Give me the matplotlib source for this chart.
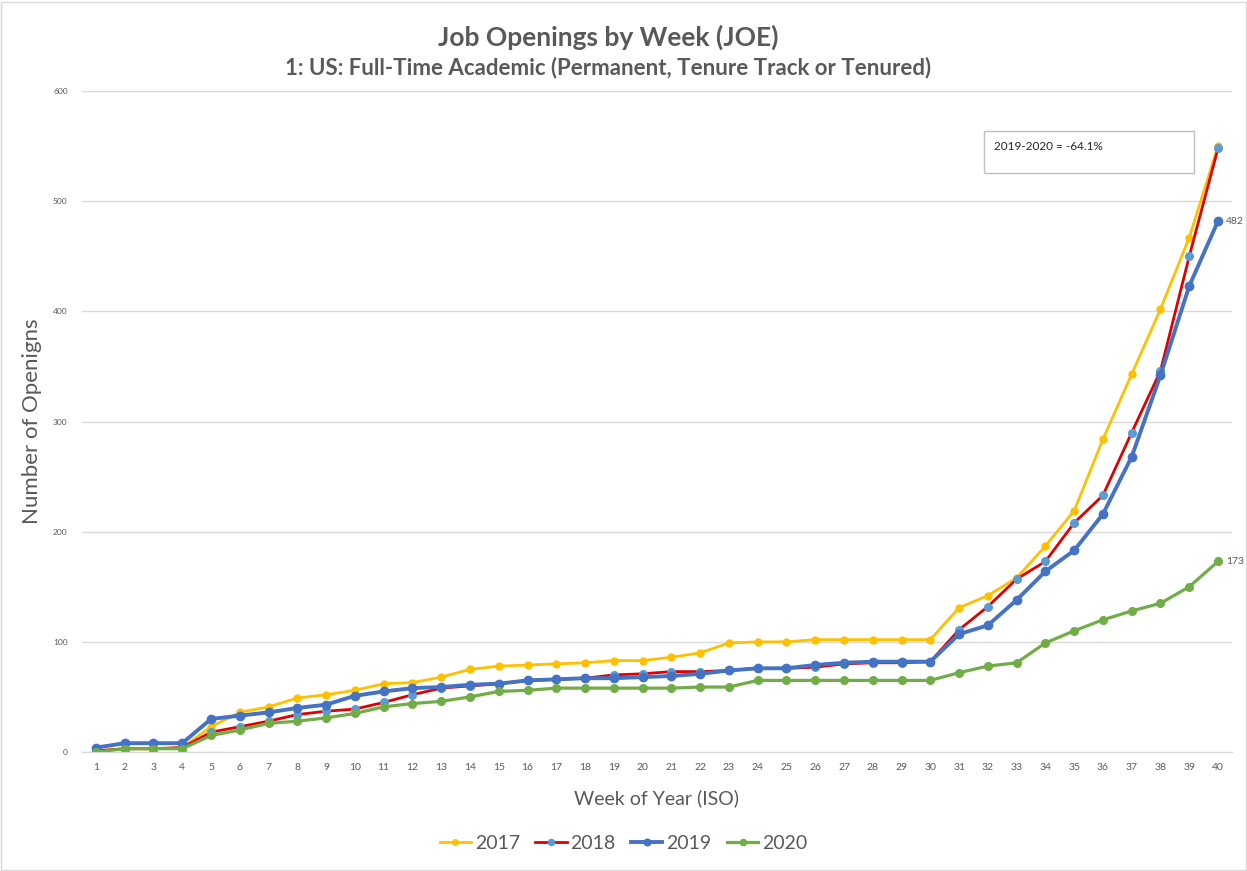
import matplotlib.pyplot as plt
from matplotlib.patches import Rectangle

weeks = list(range(1, 41))
y2017 = [1, 3, 3, 4, 23, 36, 41, 49, 52, 56, 62, 63, 68, 75, 78, 79, 80, 81, 83, 83,
         86, 90, 99, 100, 100, 102, 102, 102, 102, 102, 131, 142, 158, 187, 219, 284, 343, 402, 467, 550]
y2018 = [1, 3, 3, 4, 18, 23, 28, 34, 37, 39, 45, 52, 58, 60, 62, 65, 66, 67, 70, 71,
         73, 73, 74, 76, 76, 77, 80, 81, 81, 82, 111, 132, 157, 173, 208, 233, 290, 346, 450, 548]
y2019 = [4, 8, 8, 8, 30, 33, 36, 40, 43, 51, 55, 58, 59, 61, 62, 65, 66, 67, 67, 68,
         69, 71, 74, 76, 76, 79, 81, 82, 82, 82, 107, 115, 138, 164, 183, 216, 268, 342, 423, 482]
y2020 = [0, 3, 3, 3, 15, 20, 26, 28, 31, 35, 41, 44, 46, 50, 55, 56, 58, 58, 58, 58,
         58, 59, 59, 65, 65, 65, 65, 65, 65, 65, 72, 78, 81, 99, 110, 120, 128, 135, 150, 173]

plt.rcParams['font.family'] = ['Lato', 'DejaVu Sans']
grey = '#595959'

fig = plt.figure(figsize=(12.47, 8.71), dpi=100)
ax = fig.add_axes([0.0654, 0.1366, 0.9229, 0.7589])

# series: (values, line colour, marker colour, line width, marker size)
series = [
    ('2017', y2017, '#FFC000', '#FFC000', 2.0, 5.0),
    ('2018', y2018, '#E00000', '#5B9BD5', 2.0, 5.5),
    ('2019', y2019, '#4472C4', '#4472C4', 2.8, 6.0),
    ('2020', y2020, '#70AD47', '#70AD47', 2.3, 5.5),
]
for name, vals, lc, mc, lw, ms in series:
    ax.plot(weeks, vals, color=lc, lw=lw, marker='o', ms=ms,
            mfc=mc, mec=mc, label=name)

ax.annotate(str(y2019[-1]), (weeks[-1], y2019[-1]), xytext=(6, 0),
            textcoords='offset points', va='center', fontsize=7.5, color=grey)
ax.annotate(str(y2020[-1]), (weeks[-1], y2020[-1]), xytext=(6, 0),
            textcoords='offset points', va='center', fontsize=7.5, color=grey)

ax.set_xlim(0.5, 40.5)
ax.set_ylim(0, 600)
ax.set_xticks(weeks)
ax.set_yticks(range(0, 601, 100))
ax.tick_params(axis='both', length=0, colors=grey)
ax.tick_params(axis='x', labelsize=7.5, pad=8)
ax.tick_params(axis='y', labelsize=6, pad=10)
ax.grid(axis='y', color='#D9D9D9', lw=1)
ax.set_axisbelow(True)
for s in ['top', 'right', 'left']:
    ax.spines[s].set_visible(False)
ax.spines['bottom'].set_color('#D9D9D9')

ax.set_ylabel('Number of Openigns', fontsize=16, color=grey, labelpad=8)
ax.set_xlabel('Week of Year (ISO)', fontsize=14, color=grey, labelpad=12)

fig.text(0.4875, 0.957, 'Job Openings by Week (JOE)', ha='center', va='center',
         fontsize=19, fontweight='bold', color=grey)
fig.text(0.4875, 0.923, '1: US: Full-Time Academic (Permanent, Tenure Track or Tenured)',
         ha='center', va='center', fontsize=16, fontweight='bold', color=grey)

fig.legend(loc='center', bbox_to_anchor=(0.5, 0.032), ncol=4, frameon=False,
           fontsize=14, labelcolor=grey, handlelength=1.6, handletextpad=0.2,
           columnspacing=0.8, markerscale=0.8)

# text box
fig.patches.append(Rectangle((984 / 1247, 1 - 173 / 871), 210 / 1247, 42 / 871,
                             transform=fig.transFigure, fill=False,
                             edgecolor='#BFBFBF', lw=1))
fig.text(994 / 1247, 1 - 146 / 871, '2019-2020 = -64.1%', ha='left', va='center',
         fontsize=8.5, color='#262626')

# outer chart border
fig.patches.append(Rectangle((0.001, 0.001), 0.998, 0.997, transform=fig.transFigure,
                             fill=False, edgecolor='#D9D9D9', lw=1))

fig.savefig('out.png', dpi=100)
